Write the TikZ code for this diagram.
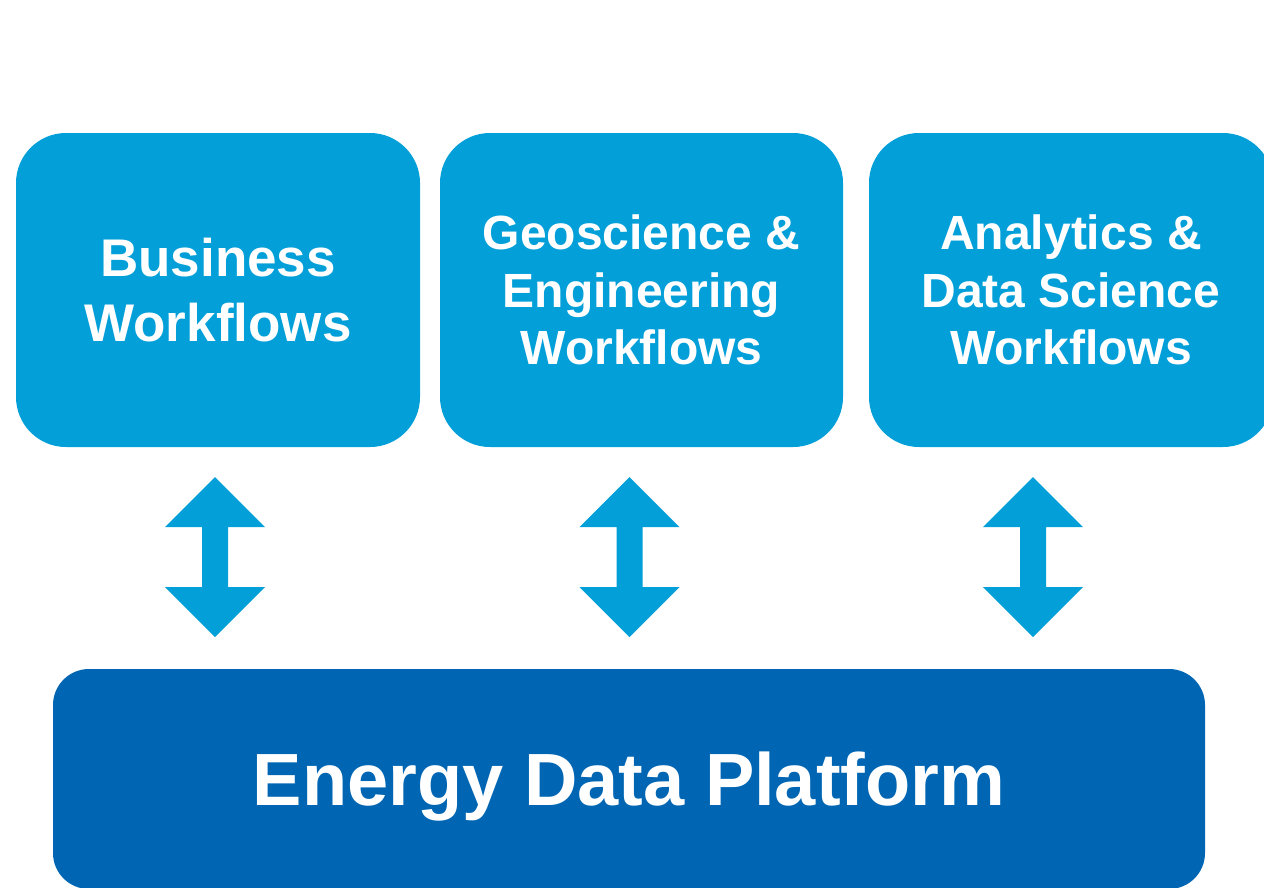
\documentclass[tikz,border=0pt]{standalone}
\usepackage{fontspec}
\setmainfont{Liberation Sans}
\usetikzlibrary{calc}
\definecolor{lightbluec}{RGB}{3,159,217}
\definecolor{darkbluec}{RGB}{0,102,179}
\tikzset{
  wfbox/.style={fill=lightbluec, rounded corners=50pt, minimum width=404pt, minimum height=314pt,
    inner sep=0pt, text=white, align=center, font=\bfseries\fontsize{48}{57.5}\selectfont},
  platbox/.style={fill=darkbluec, rounded corners=36pt, minimum width=1152pt, minimum height=220pt,
    inner sep=0pt, text=white, text depth=0pt, font=\bfseries\fontsize{74}{88}\selectfont},
  arrowc/.style={fill=lightbluec}
}
\newcommand\myudarrow[1]{%
  \fill[arrowc] (#1) -- ++(50,50) -- ++(-37,0) -- ++(0,60) -- ++(37,0) -- ++(-50,50)
    -- ++(-50,-50) -- ++(37,0) -- ++(0,-60) -- ++(-37,0) -- cycle;}
\begin{document}
\begin{tikzpicture}[x=1pt,y=-1pt]
\useasboundingbox (0,0) rectangle (1264,887);
\node[wfbox, font=\bfseries\fontsize{53}{65}\selectfont] (biz) at (218,290) {Business\\Workflows};
\node[wfbox, minimum width=403pt] (geo) at (641.5,290) {Geoscience \&\\Engineering\\Workflows};
\node[wfbox] (ana) at (1071,290) {Analytics \&\\Data Science\\Workflows};
\node[platbox] (edp) at (629,779) {Energy Data Platform};
\coordinate (t1) at ($(biz.south)+(-3,30)$);
\coordinate (t2) at ($(geo.south)+(-12,30)$);
\coordinate (t3) at ($(ana.south)+(-38,30)$);
\myudarrow{t1}
\myudarrow{t2}
\myudarrow{t3}
\end{tikzpicture}
\end{document}
